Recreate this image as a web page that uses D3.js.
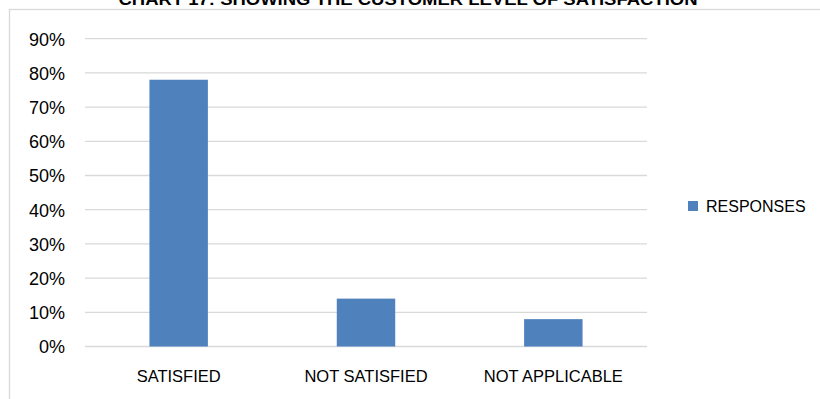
<!DOCTYPE html>
<html>
<head>
<meta charset="utf-8">
<script src="https://cdn.jsdelivr.net/npm/d3@7/dist/d3.min.js"></script>
<style>
  html, body { margin: 0; padding: 0; background: #fff; }
  svg { display: block; font-family: "Liberation Sans", Arial, sans-serif; }
</style>
</head>
<body>
<svg id="chart" width="820" height="399"></svg>
<script>
// Customer satisfaction survey responses (share of respondents)
const categories = ["SATISFIED", "NOT SATISFIED", "NOT APPLICABLE"];
const responses = [0.78, 0.14, 0.08];
const tickValues = [0, 0.1, 0.2, 0.3, 0.4, 0.5, 0.6, 0.7, 0.8, 0.9];
const seriesName = "RESPONSES";
const title = "CHART 17: SHOWING THE CUSTOMER LEVEL OF SATISFACTION";

const svg = d3.select("#chart");
const W = 820, H = 399;
const plot = { left: 85, right: 647, top: 38.7, bottom: 346.5 };

// chart frame
svg.append("rect")
  .attr("x", 9.5).attr("y", 9.5)
  .attr("width", W + 10).attr("height", H + 10)
  .attr("fill", "#fff").attr("stroke", "#d9d9d9").attr("stroke-width", 1.3);

// title (sits above the frame, its upper part runs past the top edge)
svg.append("text")
  .attr("x", 408).attr("y", 5)
  .attr("text-anchor", "middle")
  .attr("font-weight", "bold")
  .attr("font-size", 16)
  .attr("textLength", 579)
  .attr("lengthAdjust", "spacingAndGlyphs")
  .attr("fill", "#000")
  .text(title);

const x = d3.scaleBand()
  .domain(categories)
  .range([plot.left, plot.right])
  .paddingInner(0.688)
  .paddingOuter(0.344);

const y = d3.scaleLinear()
  .domain([0, 0.9])
  .range([plot.bottom, plot.top]);

// gridlines
svg.append("g")
  .selectAll("line")
  .data(tickValues)
  .join("line")
  .attr("x1", plot.left).attr("x2", plot.right)
  .attr("y1", d => y(d)).attr("y2", d => y(d))
  .attr("stroke", "#d9d9d9").attr("stroke-width", 1.3);

// y axis labels
const yAxis = d3.axisLeft(y)
  .tickValues(tickValues)
  .tickFormat(d3.format(".0%"))
  .tickSize(0)
  .tickPadding(0);
const gy = svg.append("g")
  .attr("transform", `translate(${plot.left - 20},0)`)
  .call(yAxis);
gy.select(".domain").remove();
gy.selectAll("text")
  .attr("font-size", 18)
  .attr("font-family", "Liberation Sans, Arial, sans-serif")
  .attr("fill", "#000")
  .attr("dy", "0.36em");

// bars
svg.append("g")
  .selectAll("rect")
  .data(responses)
  .join("rect")
  .attr("x", (d, i) => x(categories[i]))
  .attr("width", x.bandwidth())
  .attr("y", d => y(d))
  .attr("height", d => y(0) - y(d))
  .attr("fill", "#4f81bd");

// x axis labels
const xAxis = d3.axisBottom(x).tickSize(0).tickPadding(0);
const gx = svg.append("g")
  .attr("transform", `translate(0,${plot.bottom + 23.5})`)
  .call(xAxis);
gx.select(".domain").remove();
gx.selectAll("text")
  .attr("font-size", 16.5)
  .attr("font-family", "Liberation Sans, Arial, sans-serif")
  .attr("fill", "#000")
  .attr("dy", "0.71em");

// legend
const legend = svg.append("g").attr("transform", "translate(688,201)");
legend.append("rect")
  .attr("width", 10).attr("height", 10)
  .attr("fill", "#4f81bd");
legend.append("text")
  .attr("x", 18).attr("y", 5)
  .attr("dy", "0.35em")
  .attr("font-size", 16)
  .attr("fill", "#000")
  .text(seriesName);
</script>
</body>
</html>
